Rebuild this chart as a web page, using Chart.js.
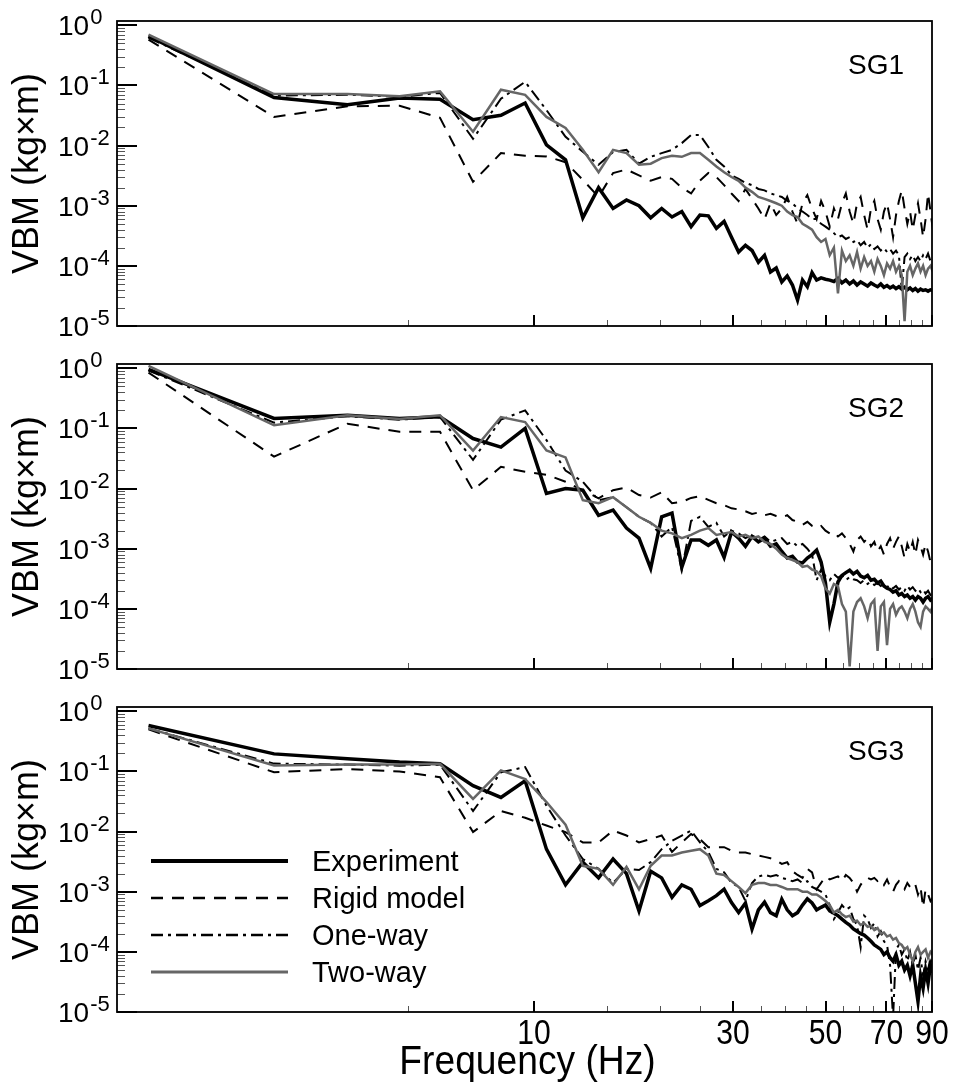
<!DOCTYPE html>
<html><head><meta charset="utf-8">
<script src="https://cdn.jsdelivr.net/npm/chart.js@4.4.1/dist/chart.umd.min.js"></script>
<style>
html,body{margin:0;padding:0;background:#fff;}
body{width:953px;height:1085px;position:relative;overflow:hidden;}
canvas{position:absolute;left:0;}
</style></head><body>
<canvas id="c1" width="953" height="336" style="top:0px"></canvas>
<canvas id="c2" width="953" height="336" style="top:343px"></canvas>
<canvas id="c3" width="953" height="399" style="top:686px"></canvas>
<script>
// ---------- data ----------
const freqHz = [1.19,2.38,3.57,4.76,5.95,7.14,8.33,9.52,10.71,11.90,13.09,14.28,15.47,16.66,17.85,19.04,20.23,21.42,22.61,23.80,24.99,26.18,27.37,28.56,29.75,30.94,32.13,33.32,34.51,35.70,36.89,38.08,39.27,40.46,41.65,42.84,44.03,45.22,46.41,47.60,48.79,49.98,51.17,52.36,53.55,54.74,55.93,57.12,58.31,59.50,60.69,61.88,63.07,64.26,65.45,66.64,67.83,69.02,70.21,71.40,72.59,73.78,74.97,76.16,77.35,78.54,79.73,80.92,82.11,83.30,84.49,85.68,86.87,88.06,89.25,90.44];

const seriesNames = ['Experiment','Rigid model','One-way','Two-way'];
const panelLabels = ['SG1','SG2','SG3'];
const xAxisTitle = 'Frequency (Hz)';
const yAxisTitle = 'VBM (kg×m)';
const xTickLabels = [10,30,50,70,90];
const xMinorTicks = [5,15,20,25,35,40,45,55,60,65,75,80,85];
const yTickExponents = [0,-1,-2,-3,-4,-5];

const sg1Experiment = [0.66,0.063,0.048,0.062,0.059,0.027,0.032,0.051,0.0103,0.0058,0.00063,0.002,0.0009,0.00125,0.001,0.00063,0.0009,0.00065,0.0008,0.00045,0.0007,0.00068,0.00042,0.00055,0.0003,0.00017,0.00022,0.00018,1.15e-4,1.5e-4,7.9e-5,9.2e-5,5.4e-5,6.8e-5,4.8e-5,2.7e-5,5.8e-5,4.5e-5,7.7e-5,5.8e-5,6.3e-5,6e-5,5.8e-5,5.5e-5,6.2e-5,5.2e-5,5.8e-5,5e-5,5.6e-5,4.8e-5,5.4e-5,5e-5,4.6e-5,5.2e-5,4.8e-5,4.5e-5,5e-5,4.4e-5,4.7e-5,4.3e-5,4.6e-5,4.2e-5,4.5e-5,4.1e-5,4.4e-5,4e-5,4.3e-5,3.9e-5,4.2e-5,3.8e-5,4.1e-5,3.9e-5,4e-5,3.8e-5,4e-5,3.9e-5];
const sg1Rigid = [0.58,0.03,0.045,0.046,0.029,0.0025,0.0075,0.0068,0.0066,0.0053,0.0027,0.0014,0.0035,0.004,0.0032,0.0026,0.003,0.0028,0.002,0.0016,0.0026,0.0035,0.003,0.0022,0.0016,0.0012,0.0019,0.0013,0.0009,0.0006,0.0011,0.0007,0.0009,0.0014,0.0008,0.0005,0.0011,0.0015,0.0009,0.0006,0.0012,0.0008,0.00045,0.0009,0.0006,0.0011,0.0016,0.0008,0.0005,0.0011,0.0014,0.0007,0.0004,0.0009,0.0012,0.0006,0.0004,0.0008,0.0011,0.0006,0.0003,0.0007,0.0012,0.0018,0.0009,0.0005,0.0008,0.0004,0.0007,0.0011,0.0006,0.0003,0.0006,0.0016,0.0008,0.0004];
const sg1OneWay = [0.62,0.068,0.07,0.065,0.075,0.013,0.06,0.115,0.039,0.014,0.0079,0.0048,0.0078,0.0085,0.005,0.0065,0.0075,0.0085,0.011,0.015,0.015,0.0095,0.0058,0.0045,0.0032,0.0028,0.0024,0.0022,0.0019,0.0018,0.0016,0.0015,0.0014,0.0012,0.0011,0.0009,0.0008,0.0007,0.0006,0.0006,0.0005,0.00045,0.0004,0.00035,0.0003,0.00032,0.00028,0.0003,0.00025,0.00027,0.00022,0.00025,0.0002,0.00023,0.00019,0.00021,0.00018,0.0002,0.00017,0.00019,0.00016,0.00018,0.00015,4e-5,0.00014,0.00016,0.00013,0.00015,0.00012,0.00014,0.00012,0.00015,0.00013,0.00016,0.00012,0.00014];
const sg1TwoWay = [0.7,0.072,0.072,0.066,0.08,0.017,0.085,0.07,0.03,0.0196,0.0085,0.0036,0.0085,0.0075,0.0048,0.005,0.0062,0.0068,0.0065,0.0075,0.0075,0.0058,0.0045,0.0036,0.003,0.0026,0.002,0.0017,0.0014,0.0013,0.0012,0.0011,0.001,0.0008,0.0007,0.00065,0.0005,0.00045,0.0004,0.0003,0.00025,0.00028,0.00015,0.0002,3.5e-5,0.00018,0.00012,0.00015,0.0001,0.00017,9e-5,0.00014,0.0001,0.00012,8e-5,0.00013,0.0001,7e-5,0.00011,9e-5,0.00012,8e-5,0.0001,7e-5,1.2e-5,8e-5,0.0001,7e-5,9e-5,0.00011,8e-5,0.0001,7e-5,9e-5,0.0001,8e-5];

const sg2Experiment = [0.96,0.147,0.166,0.147,0.156,0.068,0.049,0.1,0.0083,0.01,0.0094,0.0036,0.0044,0.0022,0.0015,0.00047,0.0034,0.0039,0.00049,0.0014,0.0014,0.00114,0.0014,0.00072,0.0019,0.0015,0.0011,0.0016,0.0013,0.0015,0.0011,0.0012,0.0009,0.0007,0.00075,0.0006,0.00058,0.0007,0.0008,0.00095,0.0006,0.00027,6e-5,0.00012,0.00028,0.00036,0.0004,0.00044,0.00038,0.00042,0.00035,0.00033,0.00036,0.0003,0.00031,0.00027,0.00029,0.00024,0.00022,0.00021,0.00019,0.0002,0.00017,0.00018,0.00016,0.00017,0.00015,0.00016,0.00014,0.00016,0.00015,0.00013,0.00015,0.00016,0.00014,0.00015];
const sg2Rigid = [0.85,0.034,0.12,0.088,0.088,0.0094,0.023,0.019,0.017,0.013,0.0094,0.0069,0.0094,0.0104,0.0078,0.0071,0.0087,0.0057,0.006,0.007,0.0075,0.0065,0.0057,0.0053,0.0047,0.0045,0.0042,0.0038,0.004,0.0036,0.0038,0.0035,0.0033,0.0036,0.003,0.0028,0.0025,0.0028,0.0024,0.0022,0.0024,0.002,0.0018,0.0019,0.0016,0.0018,0.0015,0.0012,0.0009,0.0014,0.0016,0.0013,0.0015,0.0011,0.0013,0.0009,0.0011,0.0008,0.0012,0.0015,0.001,0.0013,0.0016,0.0011,0.0007,0.0012,0.0009,0.0013,0.0008,0.0014,0.0011,0.0008,0.0012,0.0009,0.0006,0.0007];
const sg2OneWay = [0.92,0.125,0.16,0.14,0.155,0.03,0.14,0.2,0.064,0.02,0.013,0.0064,0.0072,0.0049,0.0034,0.0027,0.0016,0.0023,0.00044,0.0029,0.0034,0.0023,0.0027,0.0016,0.002,0.0018,0.0015,0.0017,0.0014,0.0016,0.0013,0.0014,0.0015,0.0012,0.0013,0.0011,0.0012,0.001,0.0008,0.0003,0.00045,0.00035,0.0003,0.00038,0.00033,0.00036,0.0003,0.00034,0.00031,0.0003,0.00027,0.0003,0.00026,0.00028,0.00025,0.00027,0.00024,0.00026,0.00023,0.00025,0.00022,0.00024,0.00021,0.00023,0.0002,0.00024,0.00021,0.00023,0.0002,0.00022,0.00019,0.00021,0.00018,0.0002,0.00017,0.00016];
const sg2TwoWay = [1.1,0.113,0.166,0.143,0.166,0.043,0.155,0.128,0.043,0.033,0.0064,0.0057,0.0072,0.0049,0.0034,0.0027,0.002,0.0018,0.0015,0.0017,0.002,0.0022,0.0017,0.0018,0.0019,0.0016,0.0017,0.0015,0.0016,0.0013,0.0012,0.001,0.0008,0.0007,0.00065,0.0006,0.0005,0.00052,0.00045,0.00042,0.00035,0.00022,0.00018,0.00026,0.00024,0.00012,9e-5,1.1e-5,9e-5,0.00013,0.00015,0.00011,7e-5,0.00012,0.00014,2e-5,0.00011,0.00013,2.5e-5,0.0001,0.00012,8e-5,0.0001,0.00011,9e-5,7e-5,0.0001,0.00012,9e-5,6e-5,5e-5,9e-5,0.00011,0.0001,9e-5,0.00011];

const sg3Experiment = [0.58,0.196,0.163,0.143,0.134,0.058,0.037,0.07,0.0051,0.0013,0.0031,0.0017,0.0035,0.002,0.00048,0.0022,0.0017,0.00081,0.0013,0.0011,0.00059,0.00071,0.00086,0.0011,0.00066,0.00045,0.00065,0.00024,0.0005,0.00067,0.00045,0.0004,0.00075,0.0005,0.0004,0.00045,0.0006,0.00076,0.00065,0.0005,0.00055,0.0006,0.00048,0.00044,0.0004,0.00035,0.00031,0.00028,0.00024,0.00022,0.0002,0.00019,0.00017,0.00015,0.00013,0.00012,0.00011,9e-5,0.0001,8e-5,7e-5,9e-5,6e-5,7e-5,5e-5,6e-5,4e-5,6e-5,3e-5,1.5e-5,4e-5,2.5e-5,5e-5,3e-5,6e-5,4.5e-5];
const sg3Rigid = [0.5,0.097,0.11,0.1,0.08,0.0098,0.022,0.017,0.0126,0.0098,0.0066,0.0066,0.0104,0.0086,0.0066,0.0075,0.0086,0.0046,0.0066,0.0091,0.0075,0.0055,0.0055,0.0055,0.0048,0.0045,0.0045,0.0042,0.004,0.0038,0.0036,0.0033,0.0029,0.0031,0.0022,0.0019,0.0017,0.0024,0.0021,0.0011,0.0014,0.0018,0.0016,0.0017,0.0018,0.0015,0.0019,0.0017,0.0014,0.001,0.0013,0.0016,0.0017,0.0016,0.0017,0.0015,0.0016,0.0013,0.0016,0.0012,0.001,0.0013,0.0015,0.0013,0.0011,0.0014,0.0012,0.0011,0.0013,0.0009,0.0012,0.00055,0.0011,0.0009,0.0007,0.0008];
const sg3OneWay = [0.52,0.135,0.13,0.125,0.13,0.022,0.097,0.118,0.027,0.0086,0.0035,0.0024,0.0014,0.0024,0.0023,0.0031,0.0051,0.007,0.0086,0.0104,0.0066,0.0046,0.0024,0.0021,0.0014,0.0012,0.0007,0.0014,0.0018,0.0019,0.0018,0.0019,0.0017,0.0016,0.0015,0.0016,0.0014,0.0015,0.0012,0.0011,0.001,0.0009,0.0006,0.00035,0.00045,0.0006,0.0005,0.00055,0.00035,0.00028,0.00012,0.0004,0.00035,0.00025,0.0003,0.00018,0.00022,0.00015,0.00013,6e-5,8e-6,0.00011,0.00013,9e-5,0.00011,7e-5,0.0001,6e-5,9e-5,5e-5,8e-5,4e-5,7e-5,5e-5,8e-5,6e-5];
const sg3TwoWay = [0.52,0.126,0.13,0.13,0.134,0.035,0.104,0.075,0.031,0.013,0.0027,0.0024,0.0013,0.0026,0.0011,0.0027,0.004,0.004,0.0045,0.0048,0.0051,0.004,0.002,0.0019,0.0015,0.0012,0.00095,0.0013,0.0014,0.0014,0.0013,0.0013,0.0012,0.0011,0.0011,0.0011,0.001,0.001,0.0009,0.0009,0.0008,0.0007,0.0006,0.00045,0.0005,0.00042,0.00038,0.0004,0.00032,0.00033,0.00028,0.0003,0.00026,0.00027,0.00023,0.00025,0.0002,0.00021,0.00018,0.00019,0.00016,0.00017,0.00014,0.00013,0.00011,0.00012,9e-5,7e-5,0.0001,0.00012,9e-5,0.0001,0.00011,8e-5,0.0001,9e-5];

// ---------- styles ----------
const seriesStyles = [
  {color:'#000', width:3.5, dash:[], order:1},
  {color:'#000', width:2, dash:[12,9], order:3},
  {color:'#000', width:2, dash:[12,5,3,5], order:2},
  {color:'#666', width:2.5, dash:[], order:0}
];
const FONT = "'Liberation Sans', Arial, sans-serif";

const panelDecor = {
  id:'panelDecor',
  afterDatasetsDraw(chart, args, opts){
    const {ctx, chartArea:a, scales:{x, y}} = chart;
    ctx.save();
    const line = (x1,y1,x2,y2)=>{ctx.beginPath();ctx.moveTo(x1,y1);ctx.lineTo(x2,y2);ctx.stroke();};
    ctx.setLineDash([]);
    // minor y ticks
    ctx.strokeStyle='#555'; ctx.lineWidth=1;
    for (let e=-5;e<0;e++) for (let m=2;m<=9;m++){
      const py=Math.round(y.getPixelForValue(m*Math.pow(10,e)))+0.5;
      line(a.left, py, a.left+8, py);
    }
    // minor x ticks
    for (const v of xMinorTicks){ const px=Math.round(x.getPixelForValue(v))+0.5; line(px,a.bottom,px,a.bottom-6); }
    // major ticks
    ctx.strokeStyle='#000'; ctx.lineWidth=2;
    for (const e of yTickExponents){ const py=Math.round(y.getPixelForValue(Math.pow(10,e))); line(a.left,py,a.left+20,py); }
    for (const v of xTickLabels){ const px=Math.round(x.getPixelForValue(v)); line(px,a.bottom,px,a.bottom-11); }
    // frame
    ctx.lineWidth=1.8; ctx.strokeRect(a.left, a.top, a.right-a.left, a.bottom-a.top);
    // y tick labels 10^n
    ctx.fillStyle='#000'; ctx.textBaseline='alphabetic'; ctx.textAlign='left';
    for (const e of yTickExponents){
      const py=y.getPixelForValue(Math.pow(10,e));
      ctx.font='28px '+FONT;
      ctx.fillText('10', 58, py+10);
      const w=ctx.measureText('10').width;
      ctx.font='22px '+FONT;
      ctx.fillText(String(e), 58+w+1, py-1);
    }
    // panel label
    ctx.font='28px '+FONT;
    ctx.fillText(opts.label, 848, a.top+53);
    // x tick labels and axis title (bottom panel only)
    if (opts.xLabels){
      ctx.textAlign='center';
      for (const v of xTickLabels){
        const px=x.getPixelForValue(v);
        ctx.save(); ctx.translate(px, a.bottom+32); ctx.scale(0.86,1);
        ctx.font='35px '+FONT; ctx.fillText(String(v),0,0); ctx.restore();
      }
      ctx.save(); ctx.translate((a.left+a.right)/2+3, a.bottom+62); ctx.scale(0.93,1);
      ctx.font='40px '+FONT; ctx.fillText(xAxisTitle,0,0); ctx.restore();
      ctx.textAlign='left';
    }
    // legend
    if (opts.legend){
      const rows=[154,191,228,265];
      chart.data.datasets.forEach((ds,i)=>{
        const st=seriesStyles[i]; const ly=a.top+rows[i];
        ctx.strokeStyle=st.color; ctx.lineWidth=st.width+(i===0?0.5:0.3); ctx.setLineDash(st.dash);
        line(151,ly,288,ly);
        ctx.setLineDash([]);
        ctx.fillStyle='#000'; ctx.font='29px '+FONT;
        ctx.fillText(ds.label, 312, ly+10);
      });
    }
    ctx.restore();
  }
};

function makeChart(id, series, label, isBottom){
  const datasets = series.map((vals,i)=>({
    label: seriesNames[i],
    data: freqHz.map((f,k)=>({x:f, y:vals[k]})),
    borderColor: seriesStyles[i].color,
    borderWidth: seriesStyles[i].width,
    borderDash: seriesStyles[i].dash,
    order: seriesStyles[i].order,
    pointRadius:0, tension:0, fill:false, borderJoinStyle:'miter', borderCapStyle:'butt'
  }));
  return new Chart(document.getElementById(id), {
    type:'line',
    data:{datasets},
    options:{
      responsive:false, animation:false, devicePixelRatio:1,
      layout:{padding:{top:21,right:21,left:0,bottom:0}},
      plugins:{legend:{display:false}, tooltip:{enabled:false},
               panelDecor:{label, legend:isBottom, xLabels:isBottom}},
      scales:{
        x:{type:'logarithmic', min:1, max:90,
           grid:{display:false, drawTicks:false}, border:{display:false},
           ticks:{display:false},
           title:{display:false, text:xAxisTitle},
           afterFit:s=>{ s.height = isBottom ? 73 : 10; }
        },
        y:{type:'logarithmic', min:1e-5, max:1.18,
           grid:{display:false, drawTicks:false}, border:{display:false},
           ticks:{display:false},
           title:{display:true, text:yAxisTitle, color:'#000', font:{family:FONT, size:36}, padding:{top:6,bottom:0}},
           afterFit:s=>{ s.width = 117; }
        }
      }
    },
    plugins:[panelDecor]
  });
}

makeChart('c1',[sg1Experiment,sg1Rigid,sg1OneWay,sg1TwoWay],panelLabels[0],false);
makeChart('c2',[sg2Experiment,sg2Rigid,sg2OneWay,sg2TwoWay],panelLabels[1],false);
makeChart('c3',[sg3Experiment,sg3Rigid,sg3OneWay,sg3TwoWay],panelLabels[2],true);
</script></body></html>
